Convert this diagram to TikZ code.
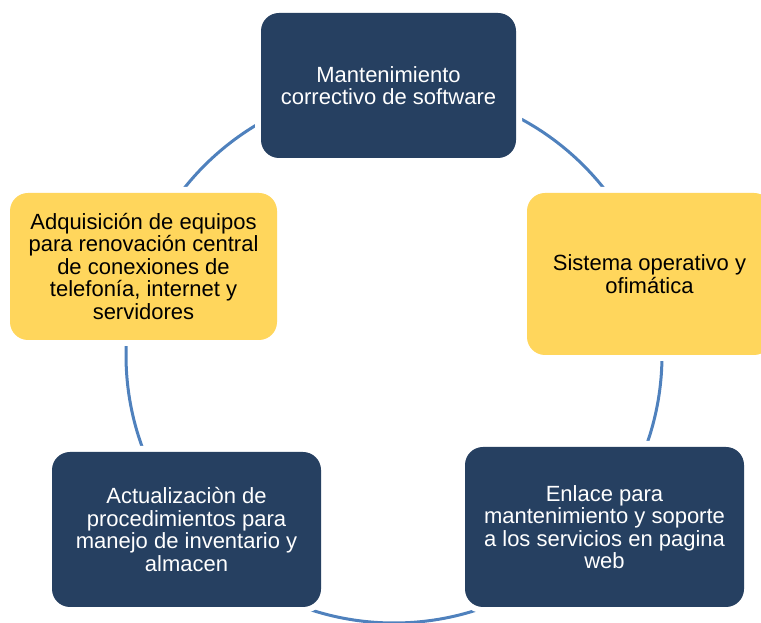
\documentclass[tikz,border=0pt]{standalone}
\usepackage{fontspec}
\setmainfont{Liberation Sans}
\usetikzlibrary{backgrounds}
\usepackage{xcolor}
\definecolor{CycleNavy}{HTML}{264061}
\definecolor{CycleGold}{HTML}{FFD65C}
\definecolor{CycleBlue}{HTML}{4F81BD}
\definecolor{CycleWhite}{HTML}{ffffff}
\tikzset{
    % Box styles - rounded corners, white halo to cut the ring
    navybox/.style={
        rectangle,
        rounded corners=18pt,
        fill=CycleNavy,
        text=CycleWhite,
        align=center,
        inner sep=4pt,
        font=\fontsize{22}{22.5}\selectfont,
        preaction={draw=CycleWhite, line width=12pt}
    },
    goldbox/.style={
        rectangle,
        rounded corners=18pt,
        fill=CycleGold,
        text=black,
        align=center,
        inner sep=4pt,
        font=\fontsize{22}{22.5}\selectfont,
        preaction={draw=CycleWhite, line width=12pt}
    },
    % Ring style - plain arc, no tips
    cyclering/.style={
        line width=3pt,
        draw=CycleBlue
    }
}
\begin{document}
\begin{tikzpicture}[x=1pt, y=1pt]
    \useasboundingbox (0,0) rectangle (761,623);

    \node[navybox, minimum width=255pt, minimum height=145pt] (mant) at (388.5,537.5)
        {Mantenimiento\\correctivo de software};
    \node[goldbox, minimum width=245pt, minimum height=162pt] (sist) at (649.5,349)
        {Sistema operativo y\\ofimática};
    \node[navybox, minimum width=279pt, minimum height=160pt] (enla) at (604.5,96)
        {Enlace para\\mantenimiento y soporte\\a los servicios en pagina\\web};
    \node[navybox, minimum width=269pt, minimum height=155pt] (actu) at (186.5,93.5)
        {Actualizaciòn de\\procedimientos para\\manejo de inventario y\\almacen};
    \node[goldbox, minimum width=267pt, minimum height=147pt] (adqu) at (143.5,356.5)
        {Adquisición de equipos\\para renovación central\\de conexiones de\\telefonía, internet y\\servidores};

    \coordinate (ctr) at (394,268);
    \begin{scope}[on background layer]
        \draw[cyclering] (ctr) circle[radius=268pt];
    \end{scope}
\end{tikzpicture}
\end{document}
